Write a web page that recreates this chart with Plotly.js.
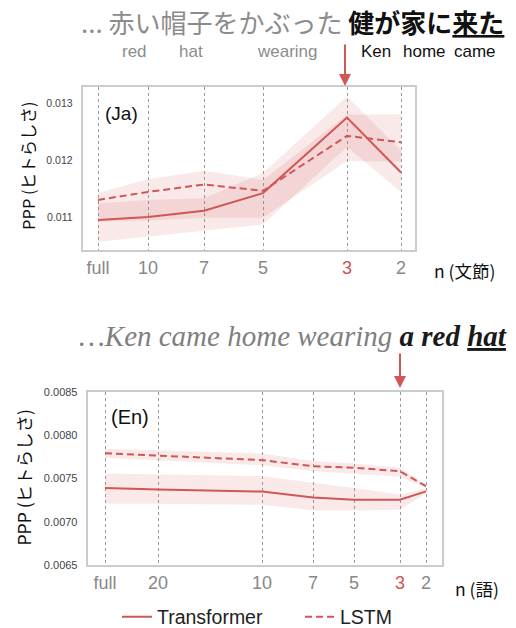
<!DOCTYPE html>
<html>
<head>
<meta charset="utf-8">
<script src="https://cdn.plot.ly/plotly-3.0.1.min.js"></script>
<style>html,body{margin:0;padding:0;background:#fff;}#chart{width:516px;height:628px;}</style>
</head>
<body>
<div id="chart"></div>
<script>
// ---- Data ----
// Japanese panel (n = number of bunsetsu)
const jaLabels = ['full', '10', '7', '5', '3', '2'];
const xJa = [0, 50, 106, 165, 249, 303];
const jaTransformer = [0.01096, 0.01101, 0.01112, 0.01143, 0.01275, 0.01179];
const jaTransformerUpper = [0.01125, 0.01131, 0.01134, 0.01178, 0.01312, 0.01217];
const jaTransformerLower = [0.01058, 0.01067, 0.01077, 0.01088, 0.01224, 0.01145];
const jaLSTM = [0.01131, 0.01145, 0.01158, 0.01147, 0.01243, 0.01232];
const jaLSTMUpper = [0.01143, 0.01167, 0.01182, 0.01166, 0.01280, 0.01281];
const jaLSTMLower = [0.01093, 0.01095, 0.01100, 0.01100, 0.01199, 0.01198];

// English panel (n = number of words)
const enLabels = ['full', '20', '10', '7', '5', '3', '2'];
const xEn = [0, 53, 157, 208, 249, 295, 321];
const enTransformer = [0.007390, 0.007370, 0.007347, 0.007280, 0.007254, 0.007254, 0.007350];
const enTransformerUpper = [0.007556, 0.007545, 0.007525, 0.007448, 0.007390, 0.007313, 0.007380];
const enTransformerLower = [0.007208, 0.007208, 0.007196, 0.007130, 0.007130, 0.007138, 0.007324];
const enLSTM = [0.007790, 0.007762, 0.007710, 0.007640, 0.007622, 0.007583, 0.007409];
const enLSTMUpper = [0.007843, 0.007827, 0.007788, 0.007700, 0.007672, 0.007622, 0.007428];
const enLSTMLower = [0.007738, 0.007710, 0.007650, 0.007583, 0.007556, 0.007518, 0.007390];

const jaTicksY = [0.011, 0.012, 0.013];
const enTicksY = [0.0065, 0.0070, 0.0075, 0.0080, 0.0085];
const highlightLabel = '3';

// ---- Styling ----
const RED = '#d15656';
const BAND = 'rgba(208,82,82,0.13)';
const W = 516, H = 628;
const px = v => v / W;
const py = v => 1 - v / H;

function band(x, up, lo, xa, ya) {
  return [
    {x: x, y: up, xaxis: xa, yaxis: ya, mode: 'lines', line: {width: 0, color: BAND}, showlegend: false, hoverinfo: 'skip'},
    {x: x, y: lo, xaxis: xa, yaxis: ya, mode: 'lines', line: {width: 0, color: BAND}, fill: 'tonexty', fillcolor: BAND, showlegend: false, hoverinfo: 'skip'}
  ];
}
function line(x, y, xa, ya, name, dash, legend) {
  return {x: x, y: y, xaxis: xa, yaxis: ya, mode: 'lines', name: name,
    line: {color: RED, width: 2, dash: dash}, showlegend: legend};
}

const traces = [].concat(
  band(xJa, jaTransformerUpper, jaTransformerLower, 'x', 'y'),
  band(xJa, jaLSTMUpper, jaLSTMLower, 'x', 'y'),
  band(xEn, enTransformerUpper, enTransformerLower, 'x2', 'y2'),
  band(xEn, enLSTMUpper, enLSTMLower, 'x2', 'y2'),
  [
    line(xJa, jaTransformer, 'x', 'y', 'Transformer', 'solid', true),
    line(xJa, jaLSTM, 'x', 'y', 'LSTM', '7px,4px', true),
    line(xEn, enTransformer, 'x2', 'y2', 'Transformer', 'solid', false),
    line(xEn, enLSTM, 'x2', 'y2', 'LSTM', '7px,4px', false)
  ]
);

const tickText = labels => labels.map(l => l === highlightLabel ? '<span style="color:#d0524f">' + l + '</span>' : l);

const SANS = 'Arial, "Liberation Sans", sans-serif';
const CJK = '"Noto Sans CJK JP", "Noto Sans", sans-serif';

function xaxisCfg(domain, vals, labels, range, anchor) {
  return {domain: domain, range: range, anchor: anchor, tickmode: 'array', tickvals: vals, ticktext: tickText(labels),
    showgrid: true, griddash: 'dot', gridcolor: '#9a9a9a', gridwidth: 1, zeroline: false,
    showline: true, mirror: true, linecolor: '#cccccc', linewidth: 2, ticks: '',
    tickfont: {family: SANS, size: 18, color: '#888888'}, fixedrange: true};
}
function yaxisCfg(domain, vals, range, fmt, size, anchor) {
  return {domain: domain, range: range, anchor: anchor, tickmode: 'array', tickvals: vals, tickformat: fmt,
    showgrid: false, zeroline: false, showline: true, mirror: true, linecolor: '#cccccc', linewidth: 2, ticks: '',
    ticklabelstandoff: 6,
    tickfont: {family: SANS, size: size, color: '#444444'}, fixedrange: true};
}

function label(x, y, text, font, extra) {
  return Object.assign({xref: 'paper', yref: 'paper', x: px(x), y: py(y), xanchor: 'center', yanchor: 'middle',
    showarrow: false, text: text, font: font}, extra || {});
}
function arrow(x, y, len) {
  return {xref: 'paper', yref: 'paper', x: px(x), y: py(y), ax: 0, ay: -len, axref: 'pixel', ayref: 'pixel',
    showarrow: true, text: '', arrowhead: 2, arrowsize: 1.2, arrowwidth: 2, arrowcolor: RED};
}
const gloss = c => ({family: SANS, size: 17, color: c});

const layout = {
  width: W, height: H, autosize: false,
  margin: {l: 0, r: 0, t: 0, b: 0, pad: 0, autoexpand: false},
  paper_bgcolor: '#ffffff', plot_bgcolor: '#ffffff',
  showlegend: true,
  legend: {orientation: 'h', traceorder: 'normal', x: px(117), y: py(617), xanchor: 'left', yanchor: 'middle',
    font: {family: SANS, size: 19.5, color: '#222222'}, bgcolor: 'rgba(0,0,0,0)', entrywidth: 138, entrywidthmode: 'pixels'},
  xaxis: xaxisCfg([px(82.7), px(415)], xJa, jaLabels, [-15.3, 317], 'y'),
  yaxis: yaxisCfg([py(250), py(86.7)], jaTicksY, [0.010435, 0.01329], '.3f', 10.5, 'x'),
  xaxis2: xaxisCfg([px(87.7), px(441.7)], xEn, enLabels, [-17.3, 336.7], 'y2'),
  yaxis2: yaxisCfg([py(565), py(391.7)], enTicksY, [0.0065, 0.0085], '.4f', 11, 'x2'),
  annotations: [
    label(292, 22, '<span style="color:#8c8c8c">... 赤い帽子をかぶった</span> <b>健が家に<u>来た</u></b>',
      {family: CJK, size: 26, color: '#111111'}),
    label(134, 52, 'red', gloss('#8c8c8c')),
    label(191, 52, 'hat', gloss('#8c8c8c')),
    label(287, 52, 'wearing', gloss('#8c8c8c')),
    label(376, 52, 'Ken', gloss('#111111')),
    label(424, 52, 'home', gloss('#111111')),
    label(475, 52, 'came', gloss('#111111')),
    arrow(345, 86, 43),
    label(121, 114, '(Ja)', {family: SANS, size: 19, color: '#111111'}),
    label(28, 166, 'PPP (ヒトらしさ)', {family: CJK, size: 16.5, color: '#111111'}, {textangle: -90}),
    label(464, 270, 'n (文節)', {family: CJK, size: 17.5, color: '#111111'}),

    label(293, 336, '<i><span style="color:#7f7f7f">…Ken came home wearing</span> <b>a red <u>hat</u></b></i>',
      {family: '"Liberation Serif", "Times New Roman", serif', size: 29, color: '#1a1a1a'}),
    arrow(400, 388, 36),
    label(130, 417, '(En)', {family: SANS, size: 20, color: '#111111'}),
    label(22.5, 478, 'PPP (ヒトらしさ)', {family: CJK, size: 17.5, color: '#111111'}, {textangle: -90}),
    label(477, 588, 'n (語)', {family: CJK, size: 17.5, color: '#111111'})
  ]
};

Plotly.newPlot('chart', traces, layout, {staticPlot: true, displayModeBar: false});
</script>
</body>
</html>
